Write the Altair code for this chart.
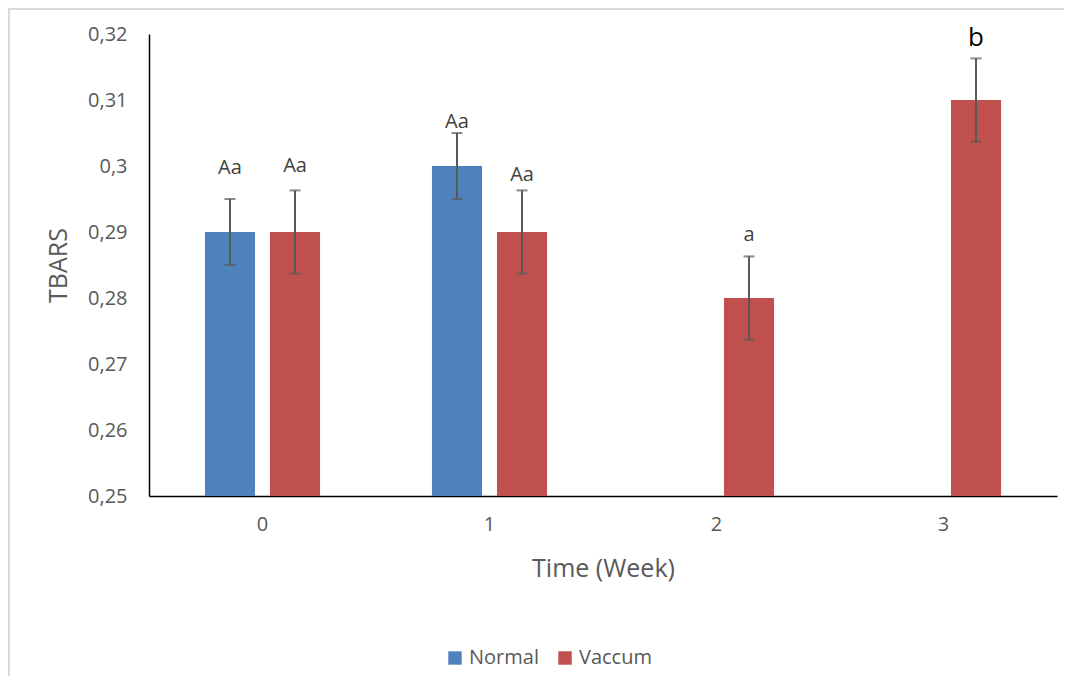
import altair as alt
import pandas as pd

weeks = ["0", "1", "2", "3"]
groups = ["Normal", "Vaccum"]
colors = ["#4F81BD", "#C0504D"]

normal_mean = [0.29, 0.30, None, None]
normal_err = [0.005, 0.005, None, None]
normal_label = ["Aa", "Aa", None, None]
normal_label_y = [0.2997, 0.3067, None, None]

vaccum_mean = [0.29, 0.29, 0.28, 0.31]
vaccum_err = [0.0063, 0.0063, 0.0063, 0.0063]
vaccum_label = ["Aa", "Aa", "a", "b"]
vaccum_label_y = [0.3000, 0.2986, 0.2895, 0.3194]

y_ticks = [0.25, 0.26, 0.27, 0.28, 0.29, 0.30, 0.31, 0.32]

rows = []
for g, means, errs, labs, labys in [
    ("Normal", normal_mean, normal_err, normal_label, normal_label_y),
    ("Vaccum", vaccum_mean, vaccum_err, vaccum_label, vaccum_label_y),
]:
    for w, m, e, l, ly in zip(weeks, means, errs, labs, labys):
        if m is None:
            continue
        rows.append({"week": w, "group": g, "mean": m, "lo": m - e, "hi": m + e,
                     "label": l, "label_y": ly})
df = pd.DataFrame(rows)

FONT = "Open Sans"
W, H = 908, 462

x_enc = alt.X("week:N", sort=weeks,
              scale=alt.Scale(domain=weeks, paddingInner=0.493, paddingOuter=0.2465),
              axis=alt.Axis(title="Time (Week)", labelAngle=0, ticks=False,
                            domainColor="black", domainWidth=1.5,
                            labelFont=FONT, labelFontSize=20, labelColor="#595959",
                            labelPadding=18,
                            titleFont=FONT, titleFontSize=25, titleFontWeight="normal",
                            titleColor="#595959", titlePadding=22))
xoff = alt.XOffset("group:N", sort=groups,
                   scale=alt.Scale(domain=groups, paddingInner=0.23, paddingOuter=0))
yscale = alt.Scale(domain=[0.25, 0.32], zero=False, nice=False, clamp=True)

base = alt.Chart(df)

bars = base.mark_bar().encode(
    x=x_enc,
    xOffset=xoff,
    y=alt.Y("mean:Q", scale=yscale,
            axis=alt.Axis(title="TBARS", values=y_ticks, grid=False, ticks=False,
                          domainColor="black", domainWidth=1.5,
                          labelExpr="replace(format(datum.value, '.2~f'), '.', ',')",
                          labelFont=FONT, labelFontSize=20, labelColor="#595959",
                          labelPadding=22,
                          titleFont=FONT, titleFontSize=25, titleFontWeight="normal",
                          titleColor="#595959", titlePadding=16)),
    y2=alt.datum(0.25),
    color=alt.Color("group:N", sort=groups,
                    scale=alt.Scale(domain=groups, range=colors),
                    legend=alt.Legend(title=None, orient="none", direction="horizontal",
                                      legendX=296, legendY=614,
                                      symbolType="square", symbolSize=180,
                                      symbolStrokeWidth=0,
                                      labelFont=FONT, labelFontSize=20,
                                      labelColor="#595959", columnPadding=16,
                                      labelOffset=4)),
)

err = base.mark_rule(color="#595959", strokeWidth=2).encode(
    x=alt.X("week:N", sort=weeks), xOffset=alt.XOffset("group:N", sort=groups),
    y=alt.Y("lo:Q", scale=yscale), y2="hi:Q",
)
cap_lo = base.mark_tick(color="#595959", size=11, thickness=2, orient="horizontal").encode(
    x=alt.X("week:N", sort=weeks), xOffset=alt.XOffset("group:N", sort=groups),
    y=alt.Y("lo:Q", scale=yscale),
)
cap_hi = base.mark_tick(color="#595959", size=11, thickness=2, orient="horizontal").encode(
    x=alt.X("week:N", sort=weeks), xOffset=alt.XOffset("group:N", sort=groups),
    y=alt.Y("hi:Q", scale=yscale),
)
labels = base.mark_text(font=FONT, baseline="middle", align="center").encode(
    x=alt.X("week:N", sort=weeks), xOffset=alt.XOffset("group:N", sort=groups),
    y=alt.Y("label_y:Q", scale=yscale),
    text="label:N",
    size=alt.condition(alt.datum.label == "b", alt.value(26), alt.value(20)),
    color=alt.condition(alt.datum.label == "b", alt.value("#000000"), alt.value("#404040")),
)

frame = alt.Chart(pd.DataFrame({"k": [0]}))
border_top = frame.mark_rule(color="#D9D9D9", strokeWidth=2).encode(
    x=alt.value(-141), x2=alt.value(W + 7), y=alt.value(-25)
)
border_left = frame.mark_rule(color="#D9D9D9", strokeWidth=2).encode(
    x=alt.value(-140), y=alt.value(-25), y2=alt.value(H + 185)
)

chart = alt.layer(border_top, border_left, bars, err, cap_lo, cap_hi, labels).properties(
    width=W, height=H,
    autosize=alt.AutoSizeParams(type="none"),
    padding={"left": 141, "top": 26, "right": 7, "bottom": 180},
).configure(background="white").configure_view(stroke=None)

chart.save("out.html", embed_options={"renderer": "svg", "actions": False})
